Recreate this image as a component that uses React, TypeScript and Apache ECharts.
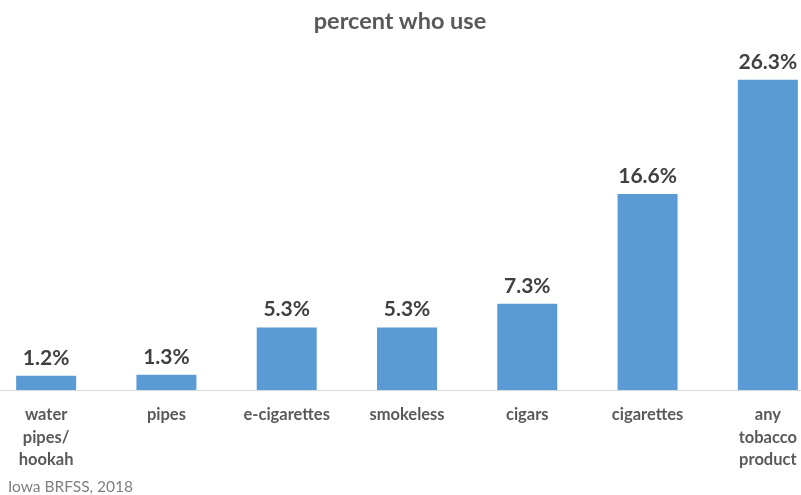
import React, { useEffect, useRef } from "react";
import * as echarts from "echarts";

const categories = ["water\npipes/\nhookah", "pipes", "e-cigarettes", "smokeless", "cigars", "cigarettes", "any\ntobacco\nproduct"];
const values = [1.2, 1.3, 5.3, 5.3, 7.3, 16.6, 26.3];
const titleText = "percent who use";
const sourceText = "Iowa BRFSS, 2018";

export default function App() {
  const ref = useRef<HTMLDivElement>(null);
  useEffect(() => {
    const chart = echarts.init(ref.current!, null, { renderer: "svg" });
    const font = "Lato, 'Open Sans', sans-serif";
    chart.setOption({
      animation: false,
      graphic: [
        {
          type: "text",
          x: 414,
          y: 8,
          style: {
            text: titleText,
            fontFamily: font,
            fontSize: 23.5,
            fontWeight: "bold",
            fill: "#595959",
            textAlign: "center",
            textVerticalAlign: "top",
          },
        },
        {
          type: "text",
          left: 22,
          top: 478,
          style: { text: sourceText, fontFamily: font, fontSize: 15.5, fill: "#7f7f7f" },
        },
      ],
      grid: { left: 0, right: 0, top: 36, bottom: 105, containLabel: false },
      xAxis: {
        type: "category",
        data: categories,
        axisLine: { show: true, lineStyle: { color: "#d9d9d9", width: 1 } },
        axisTick: { show: false },
        axisLabel: {
          interval: 0,
          margin: 13,
          fontFamily: font,
          fontSize: 16.5,
          fontWeight: "bold",
          color: "#595959",
          lineHeight: 22.5,
        },
      },
      yAxis: {
        type: "value",
        min: 0,
        max: 30,
        show: false,
        splitLine: { show: false },
      },
      series: [
        {
          type: "bar",
          data: values,
          barWidth: 60,
          itemStyle: { color: "#5b9bd5" },
          label: {
            show: true,
            position: "top",
            distance: 9,
            formatter: (p: any) => p.value.toFixed(1) + "%",
            fontFamily: font,
            fontSize: 21,
            fontWeight: "bold",
            color: "#404040",
          },
        },
      ],
    });
    return () => chart.dispose();
  }, []);
  return (
    <div style={{ position: "fixed", left: 0, top: 0, width: 801, height: 495, overflow: "hidden" }}>
      <div ref={ref} style={{ position: "absolute", left: -14, top: 0, width: 842, height: 495 }} />
    </div>
  );
}
